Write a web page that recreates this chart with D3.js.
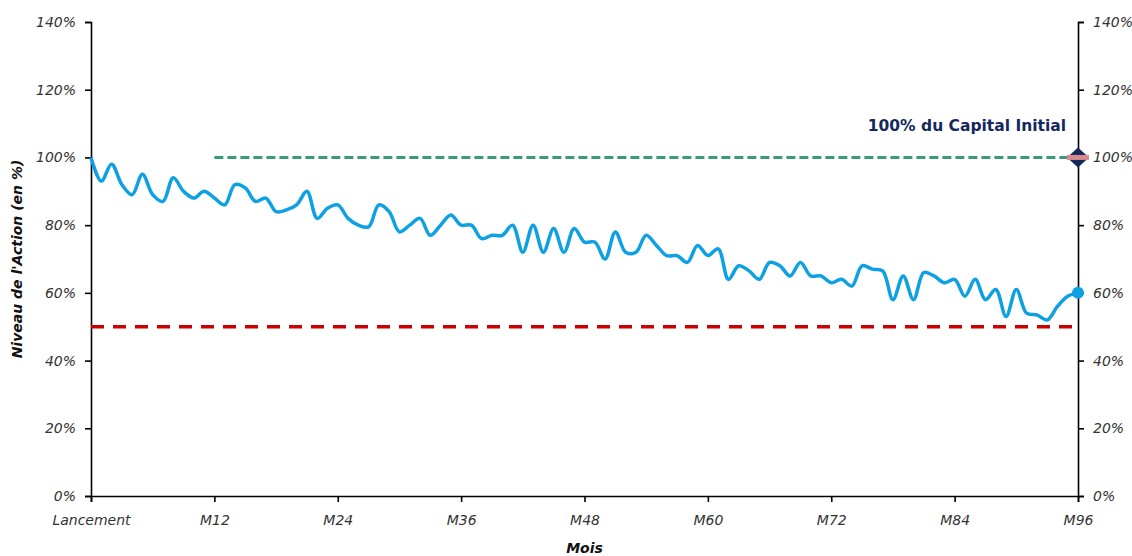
<!DOCTYPE html>
<html>
<head>
<meta charset="utf-8">
<script src="https://cdn.jsdelivr.net/npm/d3@7"></script>
<style>
  body { margin: 0; background: #fff; }
  svg { display: block; font-family: "DejaVu Sans", sans-serif; }
  .tick text { font-family: "DejaVu Sans", sans-serif; font-style: italic; font-size: 14px; fill: #333; }
  .axis path, .axis line { stroke: #000; stroke-width: 1.6; }
</style>
</head>
<body>
<svg id="chart" width="1132" height="556"></svg>
<script>
// monthly level of the share, in % of launch value (month 0..96)
const months = d3.range(0, 97);
const niveau = [
  100, 93, 98, 92, 89, 95, 89, 87, 94, 90, 88, 90, 88,
  86, 92, 91, 87, 88, 84, 84.5, 86, 90, 82, 85, 86,
  82, 80, 79.5, 86, 84, 78, 80, 82, 77, 80, 83, 80,
  80, 76, 77, 77, 80, 72, 80, 72, 79, 72, 79, 75,
  75, 70, 78, 72, 72, 77, 74, 71, 71, 69, 74, 71,
  73, 64, 68, 66.5, 64, 69, 68, 65, 69, 65, 65, 63,
  64, 62, 68, 67, 66.5, 58, 65, 58, 66, 65, 63, 64,
  59, 64, 58, 61, 53, 61, 54, 53.5, 52, 56, 59, 60
];
const xTicks = [0, 12, 24, 36, 48, 60, 72, 84, 96];
const xTickLabels = ['Lancement', 'M12', 'M24', 'M36', 'M48', 'M60', 'M72', 'M84', 'M96'];
const yTicks = [0, 20, 40, 60, 80, 100, 120, 140];
const capitalLevel = 100;   // "100% du Capital Initial"
const barrierLevel = 50;    // red barrier
const capitalStart = 12;

const svg = d3.select('#chart');
const mLeft = 91, mRight = 1078, mTop = 22, mBottom = 496;

const x = d3.scaleLinear().domain([0, 96]).range([mLeft, mRight]);
const y = d3.scaleLinear().domain([0, 140]).range([mBottom, mTop]);

// axes
svg.append('g')
  .attr('class', 'axis')
  .attr('transform', `translate(${mLeft},0)`)
  .call(d3.axisLeft(y).tickValues(yTicks).tickSize(6).tickPadding(9).tickFormat(d => d + '%'));

svg.append('g')
  .attr('class', 'axis')
  .attr('transform', `translate(${mRight},0)`)
  .call(d3.axisRight(y).tickValues(yTicks).tickSize(6).tickPadding(9).tickFormat(d => d + '%'));

svg.append('g')
  .attr('class', 'axis')
  .attr('transform', `translate(0,${mBottom})`)
  .call(d3.axisBottom(x).tickValues(xTicks).tickSize(6).tickPadding(13)
    .tickFormat((d, i) => xTickLabels[i]));

svg.selectAll('.axis .domain').attr('stroke-width', 1.8);

// barrier line
svg.append('line')
  .attr('x1', x(0)).attr('x2', x(96))
  .attr('y1', y(barrierLevel)).attr('y2', y(barrierLevel))
  .attr('stroke', '#cc0000')
  .attr('stroke-width', 3.5)
  .attr('stroke-dasharray', '13,9');

// capital line
svg.append('line')
  .attr('x1', x(capitalStart)).attr('x2', x(96))
  .attr('y1', y(capitalLevel)).attr('y2', y(capitalLevel))
  .attr('stroke', '#3a9a7c')
  .attr('stroke-width', 3)
  .attr('stroke-dasharray', '9,4');

// share level
const line = d3.line()
  .x((d, i) => x(months[i]))
  .y(d => y(d))
  .curve(d3.curveCatmullRom.alpha(0.5));

svg.append('path')
  .datum(niveau)
  .attr('fill', 'none')
  .attr('stroke', '#0da0e2')
  .attr('stroke-width', 3.5)
  .attr('stroke-linejoin', 'round')
  .attr('d', line);

svg.append('circle')
  .attr('cx', x(96))
  .attr('cy', y(niveau[niveau.length - 1]))
  .attr('r', 6)
  .attr('fill', '#0da0e2');

// diamond marker at 100%
const dx = x(96), dy = y(capitalLevel);
svg.append('path')
  .attr('d', `M${dx},${dy - 10}L${dx + 11},${dy}L${dx},${dy + 10}L${dx - 11},${dy}Z`)
  .attr('fill', '#14285e');
svg.append('rect')
  .attr('x', dx - 11).attr('y', dy - 2.5)
  .attr('width', 22).attr('height', 5)
  .attr('fill', '#d98a8c');

svg.append('text')
  .attr('x', 1066).attr('y', 131)
  .attr('text-anchor', 'end')
  .attr('font-size', 15.5)
  .attr('font-weight', 700)
  .attr('fill', '#14285e')
  .text('100% du Capital Initial');

// axis titles
svg.append('text')
  .attr('x', (mLeft + mRight) / 2).attr('y', 553)
  .attr('text-anchor', 'middle')
  .attr('font-size', 14).attr('font-weight', 700).attr('font-style', 'italic')
  .attr('fill', '#111')
  .text('Mois');

svg.append('text')
  .attr('transform', `translate(22,${(mTop + mBottom) / 2}) rotate(-90)`)
  .attr('text-anchor', 'middle')
  .attr('font-size', 14).attr('font-weight', 700).attr('font-style', 'italic')
  .attr('fill', '#111')
  .text("Niveau de l'Action (en %)");
</script>
</body>
</html>
